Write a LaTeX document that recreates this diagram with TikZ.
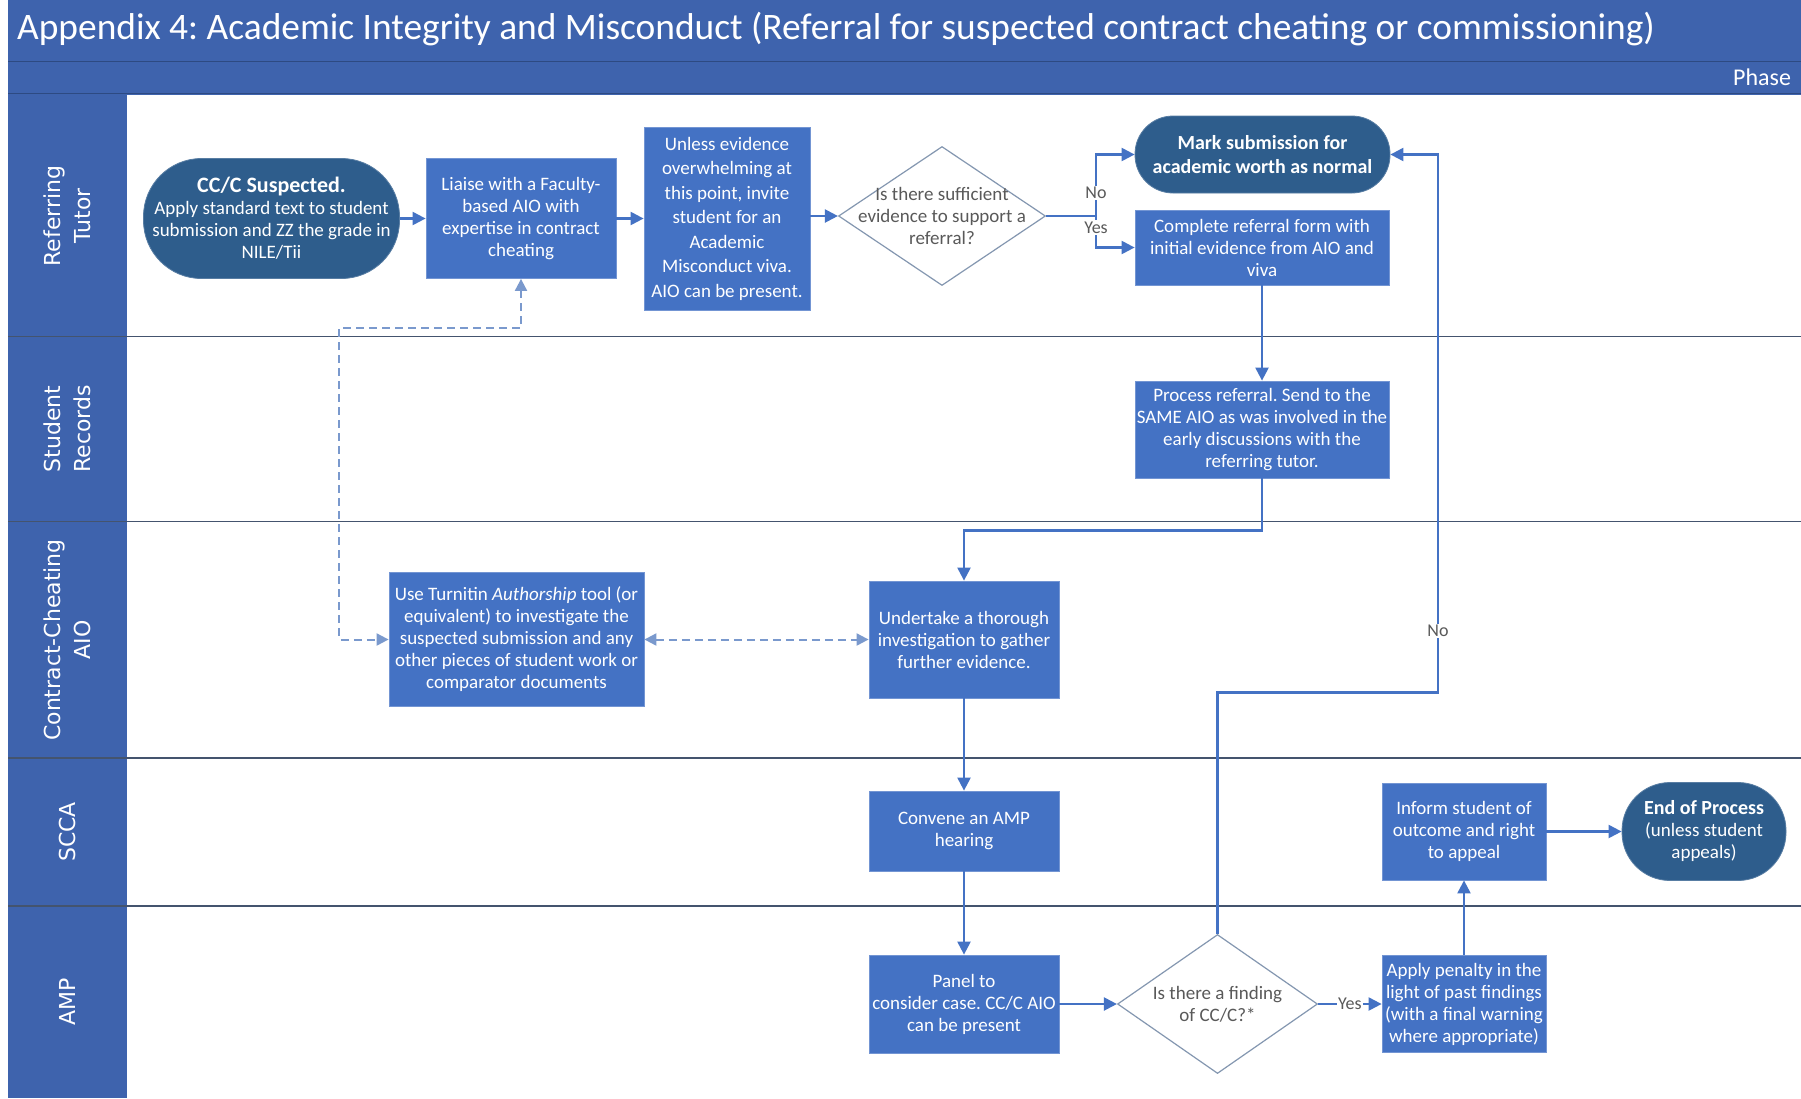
\documentclass[tikz,border=0pt]{standalone}
\usepackage{fontspec}
\setmainfont{Carlito}
\newfontfamily\lanefont{DejaVu Sans}
\usetikzlibrary{arrows.meta,shapes.geometric,calc}
\definecolor{hdr}{RGB}{62,99,173}
\definecolor{hdrline}{RGB}{45,74,130}
\definecolor{boxb}{RGB}{68,114,196}
\definecolor{term}{RGB}{46,93,140}
\definecolor{laneline}{RGB}{68,84,110}
\definecolor{dgray}{RGB}{89,89,89}
\definecolor{dshc}{RGB}{122,153,205}
\definecolor{dborder}{RGB}{132,151,176}
\definecolor{conn}{RGB}{68,114,196}
\frenchspacing
\begin{document}
\begin{tikzpicture}[x=1pt,y=-1pt,
  procbox/.style={rectangle, fill=boxb, draw=boxb!75!white, line width=0.8pt, text=white, align=center, inner sep=0pt, font=\fontsize{19}{22}\selectfont},
  termnode/.style={rectangle, fill=term, draw=term!80!white, line width=0.8pt, text=white, align=center, inner sep=0pt, font=\fontsize{19}{22}\selectfont},
  decis/.style={diamond, fill=white, draw=dborder, line width=1.2pt, inner sep=0pt},
  dtext/.style={text=dgray, align=center, font=\fontsize{19}{22}\selectfont},
  lanelbl/.style={text=white, align=center, font=\lanefont\fontsize{22}{30}\selectfont, rotate=90},
  conlbl/.style={text=dgray, fill=white, inner sep=1.5pt, font=\fontsize{18}{20}\selectfont},
  arr/.style={draw=conn, line width=2.2pt, -{Triangle[length=13pt,width=13pt]}},
  ln/.style={draw=conn, line width=2.2pt},
  dsh/.style={draw=dshc, line width=2pt, dash pattern=on 8pt off 5pt, {Triangle[length=12pt,width=12pt]}-{Triangle[length=12pt,width=12pt]}}
]
\useasboundingbox (0,0) rectangle (1801,1098);
\fill[white] (0,0) rectangle (1801,1098);
% header
\fill[hdr] (8,0) rectangle (1801,95);
\draw[hdrline, line width=1.5pt] (8,61.5) -- (1801,61.5);
\draw[hdrline, line width=1.5pt] (8,93.5) -- (1801,93.5);
\node[anchor=west, text=white, font=\fontsize{37.4}{42}\selectfont, inner sep=0pt] (title) at (17,29) {Appendix 4: Academic Integrity and Misconduct (Referral for suspected contract cheating or commissioning)};
\node[anchor=west, text=white, font=\fontsize{24}{28}\selectfont, inner sep=0pt] (phase) at (1733,77) {Phase};
% lane column
\fill[hdr] (8,95) rectangle (127,1098);
\foreach \yy in {336.5,521.5,758,906} {
  \draw[laneline, line width=1.5pt] (8,\yy) -- (1801,\yy);
}
\node[lanelbl] (l1) at (67.5,216) {Referring\\Tutor};
\node[lanelbl] (l2) at (67.5,429) {Student\\Records};
\node[lanelbl] (l3) at (67.5,640) {Contract-Cheating\\AIO};
\node[lanelbl] (l4) at (67.5,832) {SCCA};
\node[lanelbl] (l5) at (67.5,1002) {AMP};

% nodes
\node[termnode, rounded corners=58pt, minimum width=256pt, minimum height=120pt] (cc) at (271.5,218.5)
  {{\bfseries\fontsize{22}{26}\selectfont CC/C Suspected.}\\Apply standard text to student\\submission and ZZ the grade in\\NILE/Tii};
\node[procbox, minimum width=190pt, minimum height=120pt] (liaise) at (521,218.5)
  {Liaise with a Faculty-\\based AIO with\\expertise in contract\\cheating};
\node[procbox, minimum width=166pt, minimum height=183pt, font=\fontsize{19}{24.5}\selectfont] (unless) at (727,218.5)
  {Unless evidence\\overwhelming at\\this point, invite\\student for an\\Academic\\Misconduct viva.\\AIO can be present.};
\node[decis, minimum width=207pt, minimum height=139pt] (d1) at (942,216) {};
\node[dtext] (d1t) at (d1) {Is there sufficient\\evidence to support a\\referral?};
\node[termnode, rounded corners=38pt, minimum width=255pt, minimum height=77pt, font=\bfseries\fontsize{20}{24}\selectfont] (mark) at (1262.5,154.5)
  {Mark submission for\\academic worth as normal};
\node[procbox, minimum width=254pt, minimum height=75pt] (complete) at (1262,247.5)
  {Complete referral form with\\initial evidence from AIO and\\viva};
\node[procbox, minimum width=254pt, minimum height=97pt] (process) at (1262,429.5)
  {Process referral. Send to the\\SAME AIO as was involved in the\\early discussions with the\\referring tutor.};
\node[procbox, minimum width=255pt, minimum height=134pt] (turnitin) at (516.5,639.5)
  {Use Turnitin \textit{Authorship} tool (or\\equivalent) to investigate the\\suspected submission and any\\other pieces of student work or\\comparator documents};
\node[procbox, minimum width=190pt, minimum height=117pt] (undertake) at (964,639.5)
  {Undertake a thorough\\investigation to gather\\further evidence.};
\node[procbox, minimum width=190pt, minimum height=80pt] (convene) at (964,831)
  {Convene an AMP\\hearing};
\node[procbox, minimum width=190pt, minimum height=98pt] (panel) at (964,1004)
  {Panel to\\consider case. CC/C AIO\\can be present};
\node[decis, minimum width=200pt, minimum height=139pt] (d2) at (1217.5,1004) {};
\node[dtext] (d2t) at (d2) {Is there a finding\\of CC/C?*};
\node[procbox, minimum width=164pt, minimum height=97pt] (penalty) at (1464,1004)
  {Apply penalty in the\\light of past findings\\(with a final warning\\where appropriate)};
\node[procbox, minimum width=164pt, minimum height=97pt] (inform) at (1464,831.5)
  {Inform student of\\outcome and right\\to appeal};
\node[termnode, rounded corners=48pt, minimum width=164pt, minimum height=98pt] (endp) at (1704,831.5)
  {{\bfseries\fontsize{20}{24}\selectfont End of Process}\\(unless student\\appeals)};

% connectors
\draw[arr] (cc.east) -- (liaise.west);
\draw[arr] (liaise.east) -- (unless.west |- liaise.east);
\draw[arr] (unless.east |- d1.west) -- (d1.west);
\coordinate (br) at (1096,216);
\draw[ln] (d1.east) -- (br);
\draw[arr] (br) |- (mark.west);
\draw[arr] (br) |- (complete.west);
\node[conlbl] (lno1) at (1096,193) {No};
\node[conlbl] (lyes1) at (1096,227.5) {Yes};
\draw[arr] (complete.south) -- (process.north);
\coordinate (p1) at (1262,530.5);
\draw[arr] (process.south) -- (p1) -| (undertake.north);
\draw[arr] (undertake.south) -- (convene.north);
\draw[arr] (convene.south) -- (panel.north);
\draw[arr] (panel.east) -- (d2.west);
\draw[arr] (d2.east) -- (penalty.west) node[conlbl, midway] (lyes2) {Yes};
\draw[arr] (penalty.north) -- (inform.south);
\draw[arr] (inform.east) -- (endp.west);
\coordinate (n1) at (1438,692.5);
\draw[arr] (d2.north) |- (n1) |- (mark.east);
\node[conlbl] (lno2) at (1438,631) {No};
% dashed
\coordinate (q1) at (339,328);
\draw[dsh] (liaise.south) |- (q1) |- (turnitin.west);
\draw[dsh] (turnitin.east) -- (undertake.west);
\end{tikzpicture}
\end{document}
